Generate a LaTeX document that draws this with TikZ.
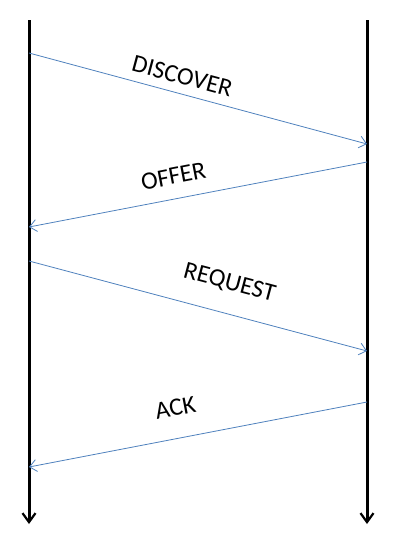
\documentclass[tikz,border=0pt]{standalone}
\usepackage{fontspec}
\setmainfont{Carlito}
\usetikzlibrary{arrows.meta}

\begin{document}
\begin{tikzpicture}[
  x=1pt, y=-1pt,
  font=\fontsize{25}{28}\selectfont,
  life/.style={line width=3pt, -{Straight Barb[length=9pt, width=13pt, line width=2.2pt]}},
  msg/.style={draw=msgblue, line width=0.8pt, -{Straight Barb[length=7pt, width=12pt]}},
  lbl/.style={sloped, inner sep=0pt}
]
\definecolor{msgblue}{RGB}{79,129,189}
\useasboundingbox (0,0) rectangle (407,550);
% lifelines
\coordinate (cTop) at (29,20);
\coordinate (cBot) at (29,524);
\coordinate (sTop) at (367,20);
\coordinate (sBot) at (367,524);
\draw[life] (cTop) -- (cBot);
\draw[life] (sTop) -- (sBot);
% message ends
\coordinate (disc1) at (29,53);
\coordinate (disc2) at (367,144);
\coordinate (off1) at (367,162);
\coordinate (off2) at (29,227);
\coordinate (req1) at (29,261);
\coordinate (req2) at (367,351);
\coordinate (ack1) at (367,402);
\coordinate (ack2) at (29,467);
% messages
\draw[msg] (disc1) -- node[lbl, above=9pt, pos=0.44] (discL) {DISCOVER} (disc2);
\draw[msg] (off1) -- node[lbl, above=14pt, pos=0.56] (offL) {OFFER} (off2);
\draw[msg] (req1) -- node[lbl, above=20pt, pos=0.57] (reqL) {REQUEST} (req2);
\draw[msg] (ack1) -- node[lbl, above=22pt, pos=0.55] (ackL) {ACK} (ack2);
\end{tikzpicture}
\end{document}
